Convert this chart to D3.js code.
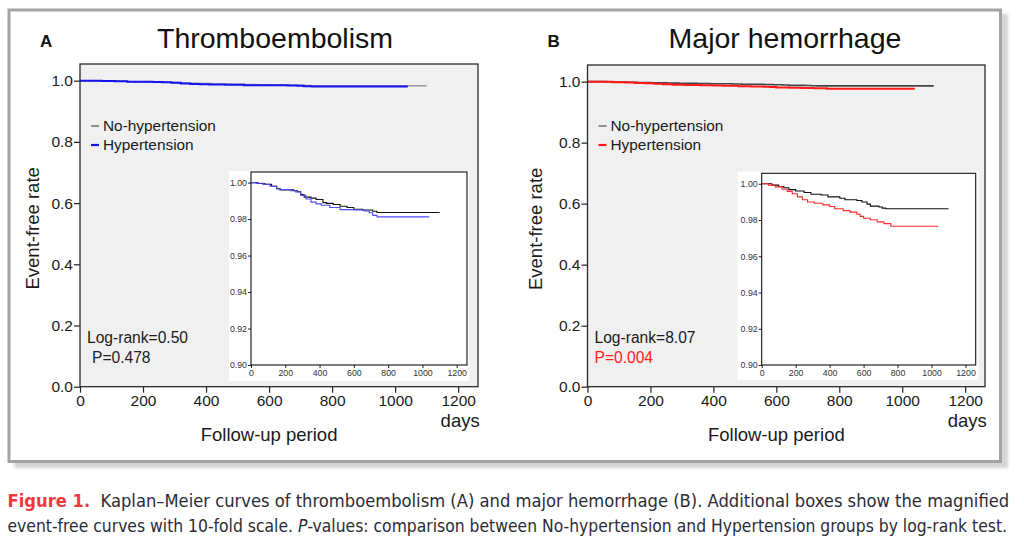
<!DOCTYPE html>
<html>
<head>
<meta charset="utf-8">
<script src="https://cdn.jsdelivr.net/npm/d3@7"></script>
<style>
  body { margin: 0; background: #fff; }
  svg { display: block; font-family: "Liberation Sans", Arial, Helvetica, sans-serif; }
</style>
</head>
<body>
<script>
// Kaplan-Meier step points
const teDaysNoHT = [0, 40, 80, 120, 150, 170, 250, 270, 290, 310, 350, 380, 420, 440, 480, 520, 560, 600, 650, 710, 735, 1100];
const teRateNoHT = [1.0, 0.9995, 0.999, 0.998, 0.9967, 0.996, 0.9955, 0.995, 0.9935, 0.992, 0.9915, 0.9907, 0.989, 0.9886, 0.988, 0.987, 0.9863, 0.9854, 0.985, 0.9843, 0.9836, 0.9836];
const teDaysHT = [0, 30, 70, 110, 150, 170, 230, 260, 290, 320, 350, 380, 410, 460, 520, 600, 660, 690, 710, 735, 1040];
const teRateHT = [1.0, 0.9996, 0.999, 0.998, 0.9966, 0.9962, 0.9955, 0.9948, 0.993, 0.991, 0.9893, 0.9883, 0.9876, 0.9863, 0.9852, 0.985, 0.9844, 0.9835, 0.982, 0.9812, 0.9812];

const mhDaysNoHT = [0, 60, 100, 130, 160, 200, 250, 290, 350, 390, 460, 490, 560, 590, 620, 640, 690, 710, 730, 1100];
const mhRateNoHT = [1.0, 0.9993, 0.9985, 0.9978, 0.9968, 0.996, 0.9952, 0.9942, 0.9938, 0.9928, 0.992, 0.9912, 0.9908, 0.99, 0.9888, 0.9877, 0.9872, 0.9866, 0.9862, 0.9862];
const mhDaysHT = [0, 40, 80, 120, 150, 180, 210, 240, 270, 310, 360, 400, 430, 480, 520, 560, 580, 600, 640, 680, 720, 760, 1040];
const mhRateHT = [1.0, 0.9993, 0.9983, 0.997, 0.9958, 0.9945, 0.9928, 0.9912, 0.99, 0.9893, 0.9884, 0.9875, 0.9862, 0.9852, 0.9844, 0.9832, 0.982, 0.981, 0.9802, 0.979, 0.978, 0.9766, 0.9766];

const groups = ["No-hypertension", "Hypertension"];
const xTicks = [0, 200, 400, 600, 800, 1000, 1200];
const yTicks = [0, 0.2, 0.4, 0.6, 0.8, 1.0];
const insetYTicks = [0.90, 0.92, 0.94, 0.96, 0.98, 1.00];

const zip = (days, rates) => days.map((d, i) => [d, rates[i]]);

const panels = [
  {
    letter: "A", title: "Thromboembolism", titleX: 275,
    series: [zip(teDaysNoHT, teRateNoHT), zip(teDaysHT, teRateHT)],
    mainColors: ["#999", "#1414f0"], insetColors: ["#111", "#4a4aff"], legendColors: ["#777", "#1414f0"],
    logrank: "Log-rank=0.50", p: "P=0.478", pColor: "#222", pDx: 5,
    plot: {l: 80, r: 478, t: 64, b: 386.7},
    box: {l: 229, r: 469, t: 171, b: 381},
    inset: {l: 251, r: 467, t: 172, b: 365},
    yLabelX: 39
  },
  {
    letter: "B", title: "Major hemorrhage", titleX: 785,
    series: [zip(mhDaysNoHT, mhRateNoHT), zip(mhDaysHT, mhRateHT)],
    mainColors: ["#444", "#ff1a1a"], insetColors: ["#111", "#ff2a2a"], legendColors: ["#777", "#ff1a1a"],
    logrank: "Log-rank=8.07", p: "P=0.004", pColor: "#ff2020", pDx: 0,
    plot: {l: 587.5, r: 985, t: 65, b: 386.7},
    box: {l: 737.5, r: 978.5, t: 171.5, b: 380},
    inset: {l: 761.7, r: 975.7, t: 173.3, b: 365},
    yLabelX: 542
  }
];

const W = 1024, H = 539;
const svg = d3.select("body").append("svg").attr("width", W).attr("height", H);

// outer frame with soft shadow
const defs = svg.append("defs");
defs.append("filter").attr("id", "blur")
  .append("feGaussianBlur").attr("stdDeviation", 1.6);
svg.append("rect")
  .attr("x", 14).attr("y", 14).attr("width", 994).attr("height", 454)
  .attr("fill", "#d4d4d4").attr("filter", "url(#blur)");
svg.append("rect")
  .attr("x", 9).attr("y", 10).attr("width", 991.5).attr("height", 451.5)
  .attr("fill", "#fff").attr("stroke", "#a3a3a3").attr("stroke-width", 3);

panels.forEach(pn => {
  const g = svg.append("g");
  const P = pn.plot;

  const x = d3.scaleLinear().domain([0, 1263]).range([P.l, P.r]);
  const y = d3.scaleLinear().domain([0, 1.0545]).range([P.b, P.t]);

  g.append("rect")
    .attr("x", P.l).attr("y", P.t).attr("width", P.r - P.l).attr("height", P.b - P.t)
    .attr("fill", "#f0f0f0");

  const line = d3.line().curve(d3.curveStepAfter).x(d => x(d[0])).y(d => y(d[1]));
  pn.series.forEach((s, i) => {
    g.append("path").datum(s)
      .attr("fill", "none")
      .attr("stroke", pn.mainColors[i])
      .attr("stroke-width", i === 0 ? 1.6 : 2)
      .attr("d", line);
  });

  // axes
  const yAxis = g.append("g").attr("transform", `translate(${P.l},0)`)
    .call(d3.axisLeft(y).tickValues(yTicks).tickFormat(d3.format(".1f")).tickSize(6).tickPadding(1));
  const xAxis = g.append("g").attr("transform", `translate(0,${P.b})`)
    .call(d3.axisBottom(x).tickValues(xTicks).tickFormat(d3.format("d")).tickSize(6).tickPadding(2));
  [yAxis, xAxis].forEach(a => {
    a.select(".domain").remove();
    a.selectAll("line").attr("stroke", "#222").attr("stroke-width", 1.2);
    a.selectAll("text").attr("font-size", 15.5).attr("fill", "#1a1a1a").attr("font-family", "'Liberation Sans', Arial, sans-serif");
  });

  g.append("rect")
    .attr("x", P.l).attr("y", P.t).attr("width", P.r - P.l).attr("height", P.b - P.t)
    .attr("fill", "none").attr("stroke", "#2a2a2a").attr("stroke-width", 1.3);

  // titles & labels
  g.append("text").attr("x", P.l - 40).attr("y", 47)
    .attr("font-size", 17).attr("font-weight", "bold").attr("fill", "#111").text(pn.letter);
  g.append("text").attr("x", pn.titleX).attr("y", 48)
    .attr("text-anchor", "middle").attr("font-size", 28.5).attr("fill", "#111").text(pn.title);
  g.append("text")
    .attr("transform", `translate(${pn.yLabelX},${(P.t + P.b) / 2 + 3}) rotate(-90)`)
    .attr("text-anchor", "middle").attr("font-size", 18.5).attr("fill", "#1a1a1a").text("Event-free rate");
  g.append("text").attr("x", x(600)).attr("y", 441)
    .attr("text-anchor", "middle").attr("font-size", 18.5).attr("fill", "#1a1a1a").text("Follow-up period");
  g.append("text").attr("x", x(1200) + 2).attr("y", 427)
    .attr("text-anchor", "middle").attr("font-size", 18.5).attr("fill", "#1a1a1a").text("days");

  // legend
  groups.forEach((name, i) => {
    const ly = 131 + i * 19;
    g.append("line")
      .attr("x1", P.l + 11).attr("x2", P.l + 19)
      .attr("y1", ly - 5).attr("y2", ly - 5)
      .attr("stroke", pn.legendColors[i]).attr("stroke-width", i === 0 ? 1.6 : 2.2);
    g.append("text").attr("x", P.l + 23).attr("y", ly)
      .attr("font-size", 15.4).attr("fill", "#1a1a1a").text(name);
  });

  g.append("text").attr("x", P.l + 7).attr("y", 343)
    .attr("font-size", 15.6).attr("fill", "#1a1a1a").text(pn.logrank);
  g.append("text").attr("x", P.l + 7 + pn.pDx).attr("y", 363)
    .attr("font-size", 15.6).attr("fill", pn.pColor).text(pn.p);

  // magnified inset
  const B = pn.box, I = pn.inset;
  g.append("rect")
    .attr("x", B.l).attr("y", B.t).attr("width", B.r - B.l).attr("height", B.b - B.t)
    .attr("fill", "#fff");
  const xi = d3.scaleLinear().domain([0, 1260]).range([I.l, I.r]);
  const yi = d3.scaleLinear().domain([0.90, 1.0058]).range([I.b, I.t]);
  const lineI = d3.line().curve(d3.curveStepAfter).x(d => xi(d[0])).y(d => yi(d[1]));
  pn.series.forEach((s, i) => {
    g.append("path").datum(s)
      .attr("fill", "none")
      .attr("stroke", pn.insetColors[i])
      .attr("stroke-width", 1.1)
      .attr("d", lineI);
  });
  const yAxI = g.append("g").attr("transform", `translate(${I.l},0)`)
    .call(d3.axisLeft(yi).tickValues(insetYTicks).tickFormat(d3.format(".2f")).tickSize(3).tickPadding(1));
  const xAxI = g.append("g").attr("transform", `translate(0,${I.b})`)
    .call(d3.axisBottom(xi).tickValues(xTicks).tickFormat(d3.format("d")).tickSize(3).tickPadding(1.5));
  [yAxI, xAxI].forEach(a => {
    a.select(".domain").remove();
    a.selectAll("line").attr("stroke", "#222");
    a.selectAll("text").attr("font-size", 8.8).attr("fill", "#333").attr("font-family", "'Liberation Sans', Arial, sans-serif");
  });
  g.append("rect")
    .attr("x", I.l).attr("y", I.t).attr("width", I.r - I.l).attr("height", I.b - I.t)
    .attr("fill", "none").attr("stroke", "#111").attr("stroke-width", 1.1);
});

// figure caption: font size fitted to the line width of the reference
const capFont = "'Liberation Sans Narrow', 'DejaVu Sans Condensed', 'Roboto Condensed', 'Liberation Sans', Arial, sans-serif";
const capLine = (yPos, target, parts) => {
  const t = svg.append("text")
    .attr("x", 7.5).attr("y", yPos)
    .attr("font-size", 18.5).attr("font-family", capFont).attr("font-stretch", "condensed")
    .attr("fill", "#2b2b36");
  parts.forEach(p => {
    const s = t.append("tspan").text(p.text);
    if (p.color) s.attr("fill", p.color);
    if (p.bold) s.attr("font-weight", "bold");
    if (p.italic) s.attr("font-style", "italic");
  });
  const w = t.node().getComputedTextLength();
  t.attr("font-size", Math.min(19.5, 18.5 * target / w));
  return t;
};
capLine(507.3, 1002, [
  {text: "Figure 1.", color: "#ee3a3f", bold: true},
  {text: "\u00a0 Kaplan\u2013Meier curves of thromboembolism (A) and major hemorrhage (B). Additional boxes show the magnified"}
]);
capLine(531.5, 1000, [
  {text: "event-free curves with 10-fold scale. "},
  {text: "P", italic: true},
  {text: "-values: comparison between No-hypertension and Hypertension groups by log-rank test."}
]);
</script>
</body>
</html>
